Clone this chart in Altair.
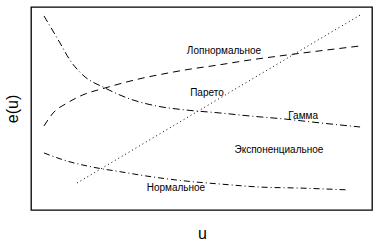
import altair as alt
import pandas as pd

# Gamma
gamma_u = [0.38, 0.85, 1.14, 1.52, 2.17, 2.99, 3.69, 4.52, 5.54, 6.42, 7.45, 8.48, 9.65]
gamma_e = [9.56, 8.23, 7.39, 6.65, 6.01, 5.42, 5.12, 4.93, 4.78, 4.63, 4.48, 4.29, 4.09]
# Lognormal
logn_u = [0.38, 0.65, 1.06, 1.52, 2.17, 2.70, 3.28, 3.87, 4.52, 5.48, 6.42, 7.30, 8.18, 8.91, 9.65]
logn_e = [4.14, 4.78, 5.27, 5.67, 6.01, 6.26, 6.50, 6.70, 6.90, 7.14, 7.39, 7.59, 7.78, 7.93, 8.08]
# Pareto
par_u = [1.35, 5.53, 9.71]
par_e = [1.33, 5.50, 9.66]
# Normal
norm_u = [0.38, 1.06, 1.79, 2.67, 3.40, 4.52, 5.54, 6.72, 7.89, 9.30]
norm_e = [2.81, 2.41, 2.12, 1.87, 1.67, 1.43, 1.28, 1.13, 1.08, 0.99]

label_text = ["Лопнормальное", "Парето", "Гамма", "Экспоненциальное", "Нормальное"]
label_u = [5.66, 5.16, 7.98, 7.27, 4.25]
label_e = [7.83, 5.76, 4.63, 2.96, 1.08]

series = [
    ("Гамма", gamma_u, gamma_e, [7, 3, 1, 3]),
    ("Лопнормальное", logn_u, logn_e, [7, 5]),
    ("Парето", par_u, par_e, [1, 3]),
    ("Нормальное", norm_u, norm_e, [6, 3, 1, 3]),
]

xs = alt.Scale(domain=[0, 10], nice=False, zero=False)
ys = alt.Scale(domain=[0, 10], nice=False, zero=False)

layers = []
for i, (name, u, e, dash) in enumerate(series):
    df = pd.DataFrame({"u": u, "e": e, "s": name})
    enc = dict(
        x=alt.X("u:Q", scale=xs,
                axis=alt.Axis(title="u", labels=False, ticks=False, grid=False, domain=False,
                              titleFontSize=16, titleFontWeight="normal", titleFont="Liberation Sans",
                              titleX=171, titleY=23, titleBaseline="middle", titleAlign="center")),
        y=alt.Y("e:Q", scale=ys,
                axis=alt.Axis(title="e(u)", labels=False, ticks=False, grid=False, domain=False,
                              titleFontSize=16, titleFontWeight="normal", titleFont="Liberation Sans",
                              titleX=-19, titleY=101.5, titleAngle=-90, titleBaseline="middle",
                              titleAlign="center")),
    )
    layers.append(
        alt.Chart(df).mark_line(color="black", strokeWidth=1, strokeDash=dash, interpolate="monotone")
        .encode(**enc)
    )

ldf = pd.DataFrame({"t": label_text, "u": label_u, "e": label_e})
labels = alt.Chart(ldf).mark_text(font="Liberation Sans", fontSize=10, color="black",
                                  align="center", baseline="middle").encode(
    x=alt.X("u:Q", scale=xs), y=alt.Y("e:Q", scale=ys), text="t:N")
layers.append(labels)

chart = alt.layer(*layers).properties(
    width=341, height=203,
    autosize=alt.AutoSizeParams(type="none"),
    padding={"left": 31, "top": 7, "right": 5, "bottom": 30},
    background="white",
).configure_view(stroke="black", strokeWidth=1.3)

chart.save("out.html", embed_options={"renderer": "svg", "actions": False})
